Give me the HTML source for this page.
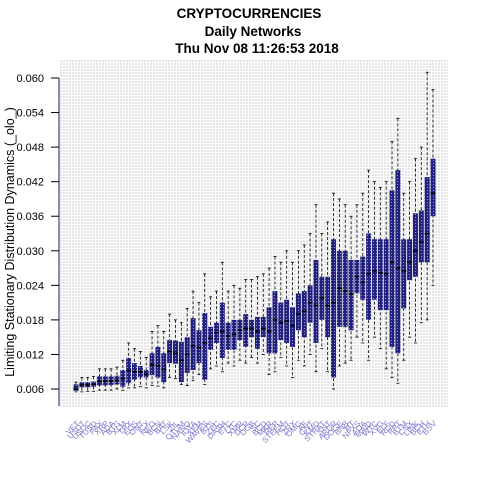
<!DOCTYPE html>
<html><head><meta charset="utf-8"><style>
html,body{margin:0;padding:0;background:#fff;width:480px;height:480px;overflow:hidden}
text{font-family:"Liberation Sans",sans-serif}
</style></head><body>
<svg id="chart" width="480" height="480" xmlns="http://www.w3.org/2000/svg">
<defs>
<pattern id="grid" width="3" height="3" patternUnits="userSpaceOnUse">
<rect width="3" height="3" fill="#fff"/>
<rect width="2" height="2" fill="#e4e4e4"/>
</pattern>
<pattern id="boxfill" width="3" height="3" patternUnits="userSpaceOnUse">
<rect width="3" height="3" fill="#22227e"/>
<rect x="1" y="1" width="1" height="1" fill="#9a9ac8"/>
</pattern>
</defs>
<rect x="60" y="60" width="388" height="347" fill="url(#grid)"/>
<g id="title" font-weight="bold" font-size="13.5" text-anchor="middle" fill="#000">
<text x="249" y="18">CRYPTOCURRENCIES</text>
<text x="253" y="36">Daily Networks</text>
<text x="257" y="53">Thu Nov 08 11:26:53 2018</text>
</g>
<text transform="translate(14,242) rotate(-90)" font-size="12.5" text-anchor="middle">Limiting Stationary Distribution Dynamics (_olo_)</text>
<g id="yaxis"></g>
<g id="marks"></g>
<g id="xlabels"></g>
</svg>
<script>
const yTicks=[0.006,0.012,0.018,0.024,0.030,0.036,0.042,0.048,0.054,0.060];
const yTickLabels=["0.006","0.012","0.018","0.024","0.030","0.036","0.042","0.048","0.054","0.060"];
const names=["VET","USDT","USDC","TUSD","PAX","XRP","ADA","BTG","XLM","TRX","EOS","ONT","ICX","NEO","BCN","BAT","LSK","ZIL","QTUM","NANO","IOTA","XEM","WAVES","BTS","ZEC","DASH","ETC","LTC","XMR","DCR","DGB","SC","BCD","MKR","REP","STEEM","HOT","ZRX","OMG","AE","GNT","KMD","STRAT","SNT","ARDR","DOGE","BNB","HT","NPXS","AOA","MAID","WTC","XVG","ELF","RDD","PPT","BTM","CNX","LINK","BCH","ETH","BSV"];
const q1=[0.0057,0.0063,0.0063,0.0064,0.0066,0.0066,0.0067,0.0068,0.0064,0.0070,0.0076,0.0080,0.0080,0.0084,0.0080,0.0072,0.0105,0.0104,0.0072,0.0088,0.0093,0.0105,0.0076,0.0128,0.0140,0.0114,0.0128,0.0128,0.0145,0.0133,0.0150,0.0130,0.0150,0.0122,0.0122,0.0145,0.0140,0.0133,0.0162,0.0150,0.0175,0.0140,0.0180,0.0150,0.0080,0.0168,0.0168,0.0162,0.0226,0.0215,0.0180,0.0215,0.0197,0.0197,0.0133,0.0122,0.0200,0.0249,0.0255,0.0280,0.0280,0.0360];
const med=[0.0060,0.0067,0.0067,0.0068,0.0073,0.0074,0.0074,0.0075,0.0078,0.0092,0.0090,0.0090,0.0086,0.0102,0.0100,0.0094,0.0125,0.0122,0.0110,0.0120,0.0135,0.0132,0.0140,0.0148,0.0158,0.0160,0.0152,0.0155,0.0162,0.0165,0.0165,0.0160,0.0165,0.0160,0.0180,0.0175,0.0178,0.0170,0.0190,0.0195,0.0210,0.0205,0.0218,0.0205,0.0210,0.0235,0.0230,0.0225,0.0255,0.0245,0.0260,0.0265,0.0262,0.0260,0.0280,0.0270,0.0265,0.0280,0.0300,0.0315,0.0330,0.0400];
const q3=[0.0068,0.0072,0.0072,0.0073,0.0082,0.0082,0.0082,0.0083,0.0093,0.0114,0.0105,0.0100,0.0093,0.0122,0.0133,0.0122,0.0145,0.0144,0.0142,0.0150,0.0183,0.0162,0.0192,0.0168,0.0175,0.0210,0.0175,0.0180,0.0180,0.0190,0.0180,0.0185,0.0185,0.0202,0.0230,0.0210,0.0215,0.0202,0.0226,0.0230,0.0240,0.0284,0.0255,0.0255,0.0320,0.0300,0.0300,0.0284,0.0284,0.0290,0.0330,0.0320,0.0320,0.0320,0.0405,0.0440,0.0320,0.0320,0.0365,0.0370,0.0428,0.0460];
const lo=[0.0055,0.0055,0.0056,0.0056,0.0058,0.0058,0.0058,0.0060,0.0058,0.0062,0.0062,0.0064,0.0062,0.0066,0.0065,0.0062,0.0080,0.0078,0.0068,0.0066,0.0075,0.0085,0.0068,0.0095,0.0100,0.0090,0.0105,0.0100,0.0110,0.0105,0.0115,0.0105,0.0120,0.0085,0.0090,0.0115,0.0100,0.0080,0.0110,0.0100,0.0120,0.0090,0.0130,0.0090,0.0060,0.0100,0.0105,0.0110,0.0150,0.0140,0.0110,0.0150,0.0130,0.0095,0.0080,0.0070,0.0110,0.0150,0.0140,0.0175,0.0180,0.0240];
const hi=[0.0072,0.0080,0.0080,0.0082,0.0095,0.0095,0.0095,0.0098,0.0110,0.0140,0.0130,0.0125,0.0115,0.0160,0.0170,0.0160,0.0190,0.0180,0.0175,0.0200,0.0230,0.0210,0.0260,0.0220,0.0230,0.0280,0.0230,0.0240,0.0235,0.0250,0.0250,0.0255,0.0260,0.0270,0.0290,0.0280,0.0300,0.0280,0.0300,0.0310,0.0330,0.0380,0.0330,0.0350,0.0400,0.0390,0.0380,0.0360,0.0380,0.0400,0.0440,0.0420,0.0410,0.0420,0.0490,0.0530,0.0400,0.0420,0.0460,0.0480,0.0610,0.0580];
const NS="http://www.w3.org/2000/svg";
function yS(v){return 389-(v-0.006)/0.054*311;}
function xS(i){return 76+i*(433-76)/(q1.length-1);}
function mk(tag,attrs,parent){const e=document.createElementNS(NS,tag);for(const k in attrs)e.setAttribute(k,attrs[k]);parent.appendChild(e);return e;}
const ya=document.getElementById('yaxis');
let ax=mk('line',{x1:59,x2:59,y1:yS(0.060),y2:406,stroke:'#1a1a6a','stroke-width':1},ya);


yTicks.forEach((t,i)=>{
  const tk=mk('line',{x1:51,x2:59,y1:yS(t),y2:yS(t),stroke:'#000'},ya);
  
  
  const tl=mk('text',{x:44,y:yS(t)+4,'font-size':11,'text-anchor':'end'},ya);
  tl.textContent=yTickLabels[i];
  
  
});
const g=document.getElementById('marks');
const xl=document.getElementById('xlabels');
q1.forEach((v,i)=>{
  const x=xS(i),w=5;
  const wl=mk('line',{x1:x,x2:x,y1:yS(hi[i]),y2:yS(lo[i]),stroke:'#000','stroke-dasharray':'3,2','stroke-width':0.8},g);
  
  
  [hi[i],lo[i]].forEach(c=>{const cap=mk('line',{x1:x-1.5,x2:x+1.5,y1:yS(c),y2:yS(c),stroke:'#000','stroke-width':0.8},g);
    
    });
  const b=mk('rect',{x:x-w/2,y:yS(q3[i]),width:w,height:Math.max(1,yS(q1[i])-yS(q3[i])),fill:'url(#boxfill)'},g);
  
  
  const m=mk('line',{x1:x-w/2,x2:x+w/2,y1:yS(med[i]),y2:yS(med[i]),stroke:'#000','stroke-width':1.5},g);
  
  
  const t=mk('text',{x:0,y:0,'font-size':8,fill:'#7a7ad0','text-anchor':'end',transform:`translate(${x+4},${424}) rotate(-45)`},xl);
  t.textContent=names[i];
  
  
});
</script>
</body></html>
